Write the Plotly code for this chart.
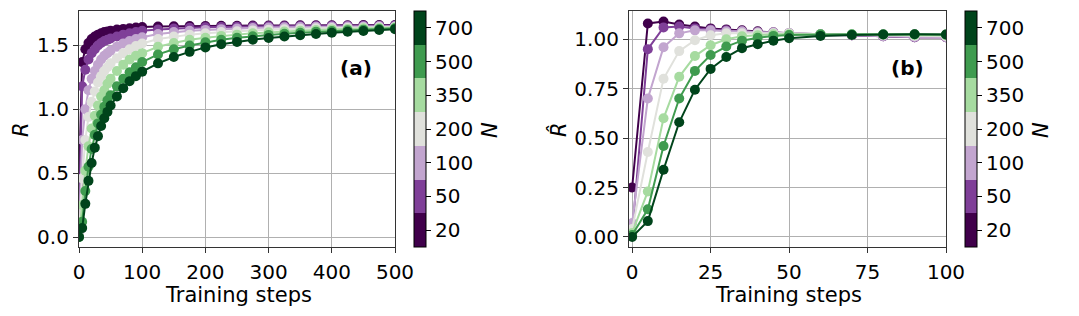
import plotly.graph_objects as go

# ---------------- data ----------------
N_values = [20, 50, 100, 200, 350, 500, 700]
N_labels = ["20", "50", "100", "200", "350", "500", "700"]
colors = ["#40004b", "#7f3f98", "#c2a5cf", "#e0e1dc", "#a6dba0", "#3f9b4f", "#00441b"]

steps_a = [0, 5, 10, 15, 20, 25, 30, 35, 40, 45, 50, 60, 70, 80, 90, 100,
           125, 150, 175, 200, 225, 250, 275, 300, 325, 350, 375, 400, 425, 450, 475, 500]

R_20 = [0.42, 1.37, 1.47, 1.52, 1.55, 1.57, 1.585, 1.595, 1.605, 1.61, 1.615, 1.625, 1.63, 1.635, 1.64, 1.645,
        1.648, 1.65, 1.652, 1.653, 1.654, 1.655, 1.656, 1.657, 1.657, 1.658, 1.658, 1.659, 1.659, 1.66, 1.66, 1.66]
R_50 = [0.10, 1.18, 1.31, 1.39, 1.44, 1.47, 1.50, 1.52, 1.535, 1.545, 1.555, 1.57, 1.585, 1.595, 1.605, 1.615,
        1.625, 1.632, 1.638, 1.642, 1.645, 1.647, 1.649, 1.65, 1.651, 1.652, 1.653, 1.654, 1.654, 1.655, 1.655, 1.656]
R_100 = [0.03, 0.76, 1.00, 1.15, 1.24, 1.30, 1.35, 1.39, 1.42, 1.44, 1.46, 1.49, 1.515, 1.535, 1.55, 1.565,
         1.59, 1.605, 1.615, 1.622, 1.628, 1.633, 1.637, 1.64, 1.642, 1.644, 1.646, 1.647, 1.648, 1.649, 1.65, 1.651]
R_200 = [0.01, 0.46, 0.76, 0.94, 1.06, 1.14, 1.21, 1.26, 1.30, 1.33, 1.36, 1.40, 1.44, 1.47, 1.495, 1.515,
         1.55, 1.57, 1.585, 1.595, 1.605, 1.612, 1.618, 1.623, 1.627, 1.631, 1.634, 1.637, 1.639, 1.641, 1.643, 1.645]
R_350 = [0.0, 0.25, 0.52, 0.71, 0.85, 0.95, 1.03, 1.10, 1.15, 1.20, 1.24, 1.30, 1.35, 1.39, 1.42, 1.44,
         1.49, 1.52, 1.545, 1.56, 1.575, 1.585, 1.595, 1.603, 1.61, 1.616, 1.621, 1.626, 1.63, 1.634, 1.637, 1.64]
R_500 = [0.0, 0.12, 0.36, 0.55, 0.69, 0.80, 0.89, 0.96, 1.02, 1.07, 1.11, 1.18, 1.24, 1.29, 1.33, 1.37,
         1.43, 1.47, 1.50, 1.525, 1.545, 1.56, 1.572, 1.583, 1.592, 1.60, 1.607, 1.613, 1.619, 1.624, 1.629, 1.634]
R_700 = [0.0, 0.07, 0.26, 0.44, 0.58, 0.70, 0.79, 0.87, 0.93, 0.98, 1.03, 1.10, 1.165, 1.22, 1.26, 1.295,
         1.36, 1.41, 1.45, 1.485, 1.51, 1.528, 1.545, 1.558, 1.57, 1.58, 1.59, 1.60, 1.607, 1.614, 1.621, 1.628]

steps_b = [0, 5, 10, 15, 20, 25, 30, 35, 40, 45, 50, 60, 70, 80, 90, 100]

Rh_20 = [0.25, 1.08, 1.09, 1.075, 1.065, 1.055, 1.05, 1.045, 1.04, 1.035, 1.03, 1.025, 1.02, 1.015, 1.01, 1.01]
Rh_50 = [0.02, 0.95, 1.06, 1.065, 1.055, 1.05, 1.045, 1.04, 1.035, 1.03, 1.03, 1.02, 1.02, 1.015, 1.01, 1.01]
Rh_100 = [0.07, 0.70, 0.96, 1.03, 1.045, 1.045, 1.04, 1.04, 1.035, 1.035, 1.03, 1.025, 1.02, 1.015, 1.012, 1.01]
Rh_200 = [0.04, 0.43, 0.80, 0.94, 0.995, 1.02, 1.03, 1.03, 1.03, 1.03, 1.03, 1.025, 1.022, 1.02, 1.017, 1.015]
Rh_350 = [0.02, 0.23, 0.60, 0.81, 0.915, 0.97, 1.0, 1.015, 1.02, 1.025, 1.025, 1.025, 1.024, 1.023, 1.022, 1.02]
Rh_500 = [0.01, 0.14, 0.46, 0.70, 0.84, 0.92, 0.963, 0.993, 1.008, 1.017, 1.022, 1.025, 1.025, 1.025, 1.025, 1.024]
Rh_700 = [0.0, 0.08, 0.34, 0.58, 0.745, 0.85, 0.91, 0.955, 0.975, 0.993, 1.005, 1.017, 1.022, 1.024, 1.025, 1.024]

R_series = [R_20, R_50, R_100, R_200, R_350, R_500, R_700]
Rh_series = [Rh_20, Rh_50, Rh_100, Rh_200, Rh_350, Rh_500, Rh_700]

x_ticks_a = [0, 100, 200, 300, 400, 500]
y_ticks_a = [0.0, 0.5, 1.0, 1.5]
x_ticks_b = [0, 25, 50, 75, 100]
y_ticks_b = [0.0, 0.25, 0.5, 0.75, 1.0]

# ---------------- layout geometry ----------------
# the page body has an 8px margin; figure coordinates are page px minus OFF
OFF = 8
W, H = 1063, 300
FONT = "DejaVu Sans"
FS = 20
FS_LAB = 21

def px_x(p):
    return (p - OFF) / W

def px_y(p):
    return 1 - (p - OFF) / H

ydom = [px_y(247), px_y(11)]

fig = go.Figure()

for i, N in enumerate(N_values):
    fig.add_trace(go.Scatter(
        x=steps_a, y=R_series[i], mode="lines+markers",
        line=dict(color=colors[i], width=2),
        marker=dict(color=colors[i], size=10),
        xaxis="x", yaxis="y", showlegend=False, name=f"N={N}"))
    fig.add_trace(go.Scatter(
        x=steps_b, y=Rh_series[i], mode="lines+markers",
        line=dict(color=colors[i], width=2),
        marker=dict(color=colors[i], size=10),
        xaxis="x2", yaxis="y2", showlegend=False, name=f"N={N}"))

# discrete colorscale
cs = []
n = len(colors)
for i, c in enumerate(colors):
    cs.append([i / n, c])
    cs.append([(i + 1) / n, c])

def cbar_trace(xa, ya, xpos):
    return go.Scatter(
        x=[None], y=[None], mode="markers", xaxis=xa, yaxis=ya,
        showlegend=False, hoverinfo="skip",
        marker=dict(
            color=[0], colorscale=cs, cmin=-0.5, cmax=n - 0.5, showscale=True,
            colorbar=dict(
                x=xpos, xanchor="left", xpad=0,
                y=(ydom[0] + ydom[1]) / 2, yanchor="middle", ypad=0,
                len=ydom[1] - ydom[0], lenmode="fraction",
                thickness=12, outlinewidth=1, outlinecolor="black",
                tickvals=list(range(n)), ticktext=N_labels,
                ticks="outside", ticklen=5, tickcolor="black",
                tickfont=dict(family=FONT, size=FS, color="black"),
            )))

fig.add_trace(cbar_trace("x", "y", px_x(414)))
fig.add_trace(cbar_trace("x2", "y2", px_x(965)))

axis_common = dict(
    showgrid=True, gridcolor="#b0b0b0", gridwidth=1,
    showline=True, linecolor="#333333", linewidth=1.2, mirror=True,
    ticks="outside", ticklen=5, tickcolor="#333333",
    tickfont=dict(family=FONT, size=FS, color="black"),
    zeroline=False, automargin=False,
)

fig.update_layout(
    width=W, height=H,
    margin=dict(l=0, r=0, t=0, b=0, autoexpand=False),
    paper_bgcolor="white", plot_bgcolor="white",
    font=dict(family=FONT, size=FS, color="black"),
    xaxis=dict(domain=[px_x(79), px_x(395)], range=[0, 500], tickvals=x_ticks_a,
               anchor="y", ticklabelstandoff=2, **axis_common),
    yaxis=dict(domain=ydom, range=[-0.078, 1.77], tickvals=y_ticks_a, tickformat=".1f",
               anchor="x", **axis_common),
    xaxis2=dict(domain=[px_x(629), px_x(946)], range=[-1, 100], tickvals=x_ticks_b,
                anchor="y2", ticklabelstandoff=2, **axis_common),
    yaxis2=dict(domain=ydom, range=[-0.051, 1.143], tickvals=y_ticks_b, tickformat=".2f",
                anchor="x2", **axis_common),
)

ann = dict(xref="paper", yref="paper", showarrow=False, xanchor="center", yanchor="middle")
lab_font = dict(family=FONT, size=FS_LAB, color="black")
fig.add_annotation(x=px_x(238), y=px_y(295), text="Training steps", font=lab_font, **ann)
fig.add_annotation(x=px_x(788), y=px_y(295), text="Training steps", font=lab_font, **ann)
fig.add_annotation(x=px_x(21), y=px_y(130), text="<i>R</i>", textangle=-90, font=lab_font, **ann)
fig.add_annotation(x=px_x(558), y=px_y(130), text="<i>R\u0302</i>", textangle=-90, font=lab_font, **ann)
fig.add_annotation(x=px_x(490), y=px_y(130), text="<i>N</i>", textangle=-90, font=lab_font, **ann)
fig.add_annotation(x=px_x(1041), y=px_y(130), text="<i>N</i>", textangle=-90, font=lab_font, **ann)
fig.add_annotation(x=px_x(356), y=px_y(68), text="<b>(a)</b>", font=dict(family=FONT, size=FS, color="black"), **ann)
fig.add_annotation(x=px_x(907), y=px_y(68), text="<b>(b)</b>", font=dict(family=FONT, size=FS, color="black"), **ann)

fig.write_html("out.html")
